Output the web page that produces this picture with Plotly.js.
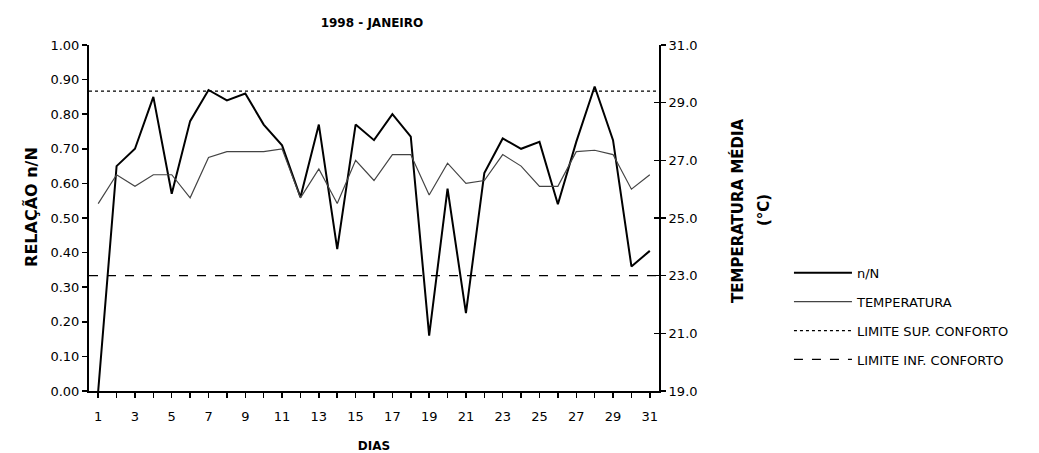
<!DOCTYPE html>
<html>
<head>
<meta charset="utf-8">
<script src="https://cdn.plot.ly/plotly-3.0.1.min.js"></script>
<style>html,body{margin:0;padding:0;background:#fff;}#chart{width:1039px;height:453px;}</style>
</head>
<body>
<div id="chart"></div>
<script>
const dias = [1,2,3,4,5,6,7,8,9,10,11,12,13,14,15,16,17,18,19,20,21,22,23,24,25,26,27,28,29,30,31];
const relacaoNN = [0.00,0.65,0.70,0.85,0.57,0.78,0.87,0.84,0.86,0.77,0.71,0.56,0.77,0.41,0.77,0.725,0.80,0.735,0.16,0.585,0.225,0.63,0.73,0.70,0.72,0.54,0.72,0.88,0.725,0.36,0.405];
const temperatura = [25.5,26.5,26.1,26.5,26.5,25.7,27.1,27.3,27.3,27.3,27.4,25.7,26.7,25.5,27.0,26.3,27.2,27.2,25.8,26.9,26.2,26.3,27.2,26.8,26.1,26.1,27.3,27.35,27.2,26.0,26.5];
const limiteSup = 29.4;
const limiteInf = 23.0;
const xEnds = [0.5, 31.5];
const yTicksLeft = [0,0.1,0.2,0.3,0.4,0.5,0.6,0.7,0.8,0.9,1.0];
const yTicksRight = [19,21,23,25,27,29,31];
const xTickText = dias.map(d => d % 2 === 1 ? String(d) : '');

const F = 'DejaVu Sans, Liberation Sans, Arial, sans-serif';

const traces = [
  {x: dias, y: relacaoNN, name: 'n/N', type: 'scatter', mode: 'lines',
   line: {color: '#000', width: 2}, legendgroup: 'a', yaxis: 'y'},
  {x: dias, y: temperatura, name: 'TEMPERATURA', type: 'scatter', mode: 'lines',
   line: {color: '#444', width: 1.2}, legendgroup: 'b', yaxis: 'y2'},
  {x: xEnds, y: [limiteSup, limiteSup], name: 'LIMITE SUP. CONFORTO', type: 'scatter', mode: 'lines',
   line: {color: '#000', width: 1.2, dash: 'dot'}, legendgroup: 'c', yaxis: 'y2'},
  {x: xEnds, y: [limiteInf, limiteInf], name: 'LIMITE INF. CONFORTO', type: 'scatter', mode: 'lines',
   line: {color: '#000', width: 1.3, dash: 'dash'}, legendgroup: 'd', yaxis: 'y2'},
  {x: [dias[0]], y: [yTicksRight[0]], yaxis: 'y3', type: 'scatter', mode: 'none',
   showlegend: false, hoverinfo: 'skip'}
];

const layout = {
  width: 1039, height: 453,
  margin: {l: 89, r: 380, t: 45, b: 62},
  paper_bgcolor: '#fff', plot_bgcolor: '#fff',
  font: {family: F, size: 13, color: '#000'},
  title: {text: '<b>1998 - JANEIRO</b>', font: {family: F, size: 12, color: '#000'},
          x: 0.358, xanchor: 'center', y: 0.95, yanchor: 'middle'},
  showlegend: true,
  legend: {x: 1.228, xanchor: 'left', y: 0.385, yanchor: 'top', bgcolor: 'rgba(0,0,0,0)',
           font: {family: F, size: 13, color: '#000'}, itemwidth: 58, traceorder: 'grouped', tracegroupgap: 9},
  xaxis: {range: xEnds, tickvals: dias, ticktext: xTickText, ticks: 'outside', ticklen: 5, tickwidth: 1.5,
          tickcolor: '#000', showline: true, linecolor: '#000', linewidth: 2, showgrid: false, zeroline: false,
          tickfont: {family: F, size: 13}, ticklabelstandoff: 7,
          title: {text: '<b>DIAS</b>', font: {family: F, size: 12}, standoff: 22}},
  yaxis: {range: [0, 1], tickvals: yTicksLeft, tickformat: '.2f', ticks: 'outside', ticklen: 5, tickwidth: 1.5,
          tickcolor: '#000', showline: true, linecolor: '#000', linewidth: 2, showgrid: false, zeroline: false,
          tickfont: {family: F, size: 13}},
  yaxis2: {range: [19, 31], tickvals: yTicksRight, tickformat: '.1f', overlaying: 'y', side: 'right',
           ticks: 'outside', ticklen: 5, tickwidth: 1.5, tickcolor: '#000', showline: true, linecolor: '#000',
           linewidth: 2, showgrid: false, zeroline: false, tickfont: {family: F, size: 13}},
  yaxis3: {range: [19, 31], tickvals: yTicksRight, overlaying: 'y', side: 'right', anchor: 'x',
           ticks: 'inside', ticklen: 5, tickwidth: 1.5, tickcolor: '#000', showticklabels: false,
           showline: false, showgrid: false, zeroline: false},
  annotations: [
    {text: '<b>RELAÇÃO n/N</b>', xref: 'paper', yref: 'paper', x: -0.1, y: 0.532,
     xanchor: 'center', yanchor: 'middle', textangle: -90, showarrow: false, font: {family: F, size: 16}},
    {text: '<b>TEMPERATURA MÉDIA</b>', xref: 'paper', yref: 'paper', x: 1.1368, y: 0.523,
     xanchor: 'center', yanchor: 'middle', textangle: -90, showarrow: false, font: {family: F, size: 15}},
    {text: '<b>(°C)</b>', xref: 'paper', yref: 'paper', x: 1.1842, y: 0.523,
     xanchor: 'center', yanchor: 'middle', textangle: -90, showarrow: false, font: {family: F, size: 15}}
  ]
};

Plotly.newPlot('chart', traces, layout, {displayModeBar: false, staticPlot: true});
</script>
</body>
</html>
